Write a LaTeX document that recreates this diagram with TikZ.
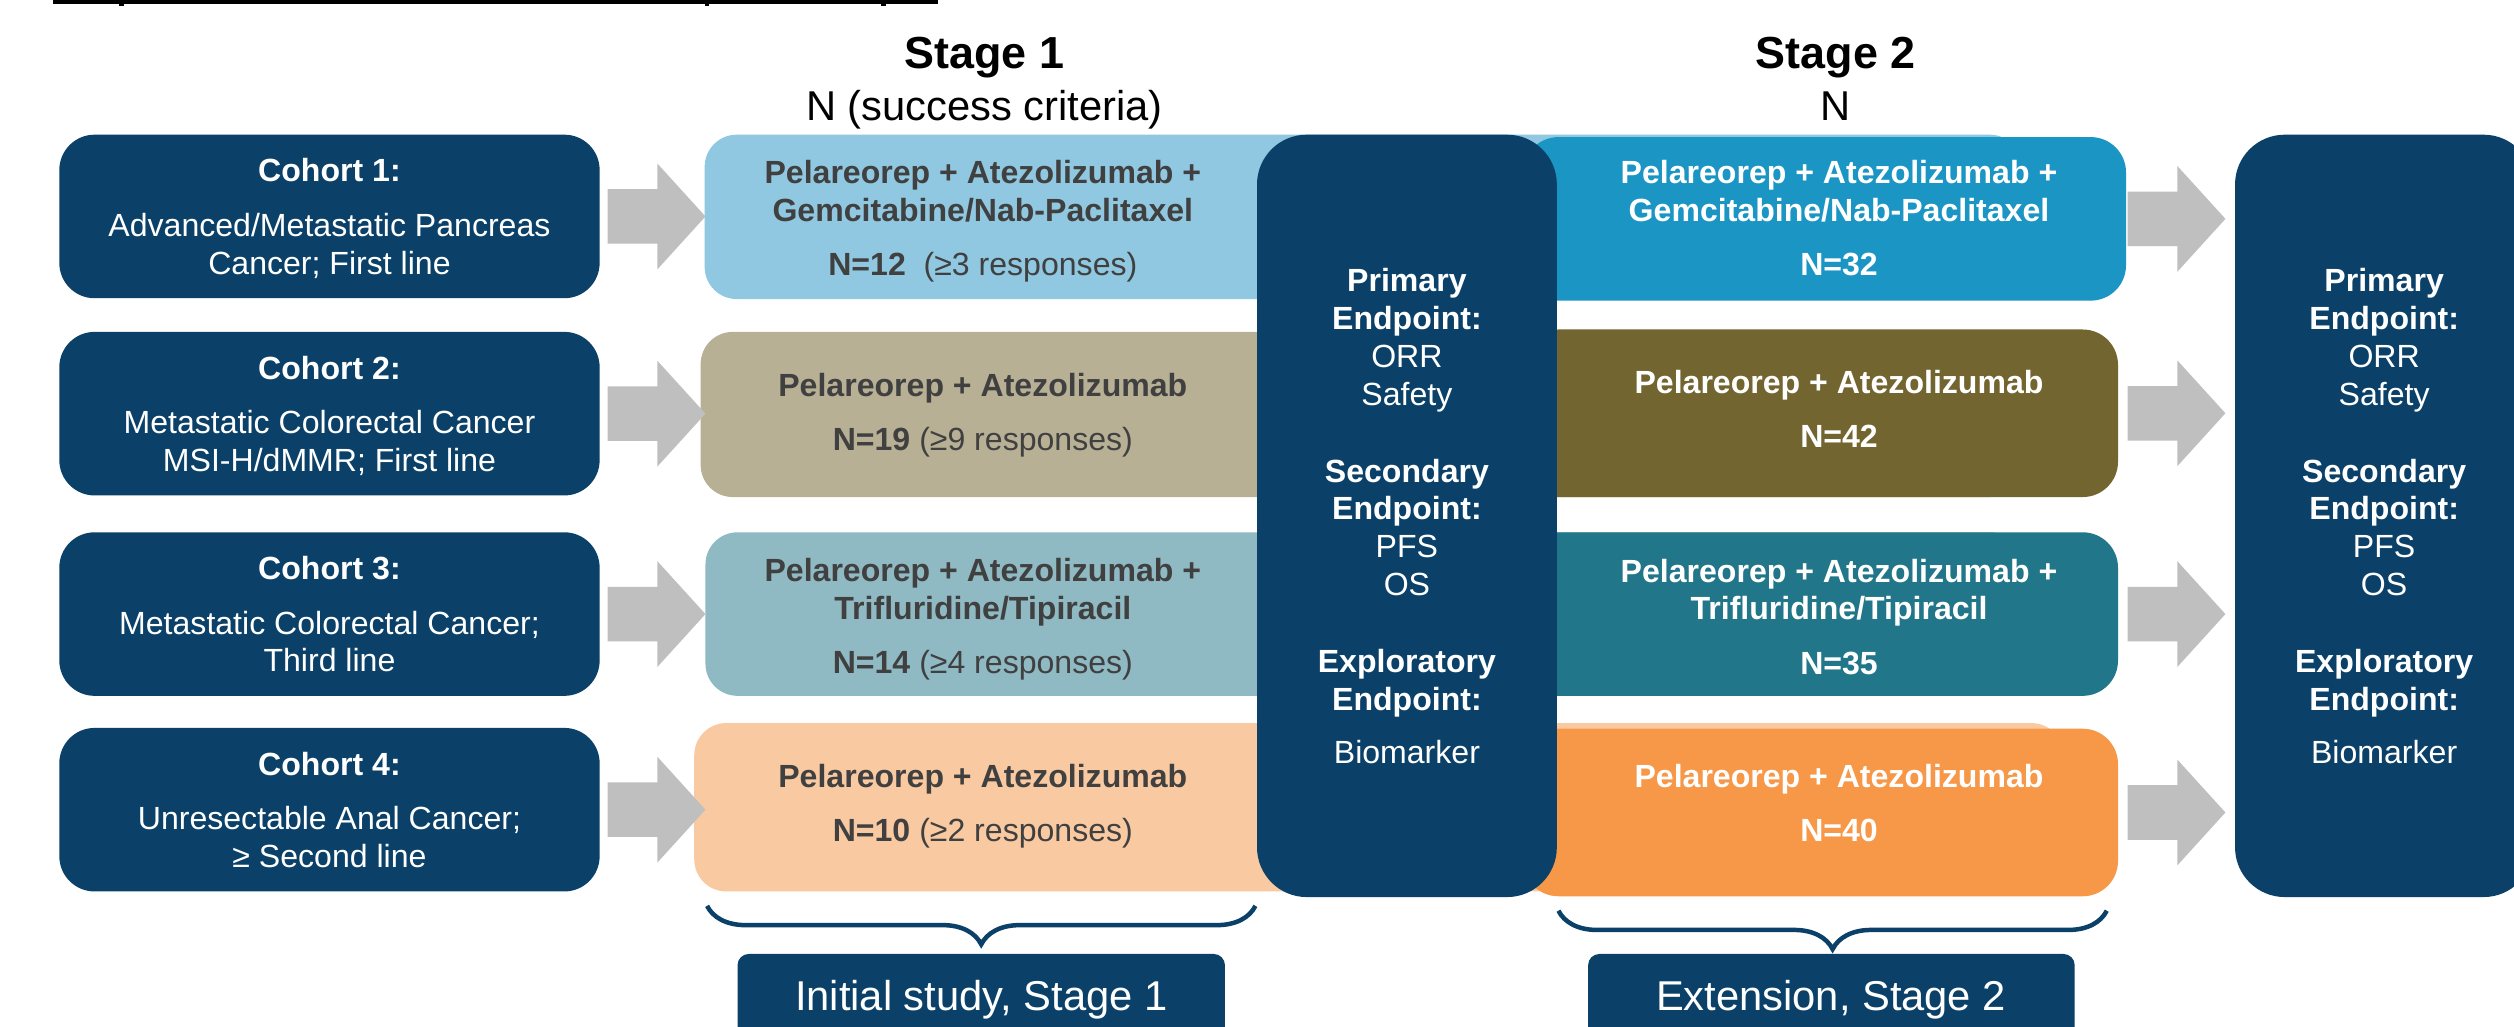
\documentclass[tikz,border=0pt]{standalone}
\usepackage{fontspec}
\setmainfont{Liberation Sans}
\usetikzlibrary{calc,decorations.pathreplacing}
\definecolor{navy}{HTML}{0B4168}
\definecolor{arrowgray}{HTML}{BFBFBF}
\definecolor{textgray}{HTML}{404040}
\definecolor{sA}{HTML}{8FC8E0}
\definecolor{sB}{HTML}{B8B095}
\definecolor{sC}{HTML}{8FB9C3}
\definecolor{sD}{HTML}{F9CAA2}
\definecolor{tA}{HTML}{1B95C4}
\definecolor{tB}{HTML}{736530}
\definecolor{tC}{HTML}{217689}
\definecolor{tD}{HTML}{F69848}
\newcommand{\grayarrowfrom}[1]{\fill[arrowgray] ($(#1)+(0,-17)$) -- ++(31,0) -- ++(0,-16) -- ++(30,33) -- ++(-30,33) -- ++(0,-16) -- ++(-31,0) -- cycle;}
\begin{document}
\begin{tikzpicture}[x=1pt,y=-1pt,
  box/.style={rectangle, inner sep=0pt, outer sep=0pt, anchor=north west},
  cohort/.style={box, fill=navy, rounded corners=22pt, minimum width=337pt, minimum height=102pt},
  sone/.style={box, rounded corners=20pt},
  stwo/.style={box, rounded corners=22pt},
  endp/.style={box, fill=navy, rounded corners=31pt, minimum width=187pt, minimum height=475.5pt},
  lab/.style={box, fill=navy, rounded corners=7pt, minimum height=70pt},
  body/.style={font=\fontsize{20}{23.6}\selectfont, align=center, inner sep=0pt, anchor=base},
  wtext/.style={body, text=white},
  gtext/.style={body, text=textgray},
  head/.style={inner sep=0pt, anchor=base, text=black},
  brc/.style={draw=navy, line width=2.8pt, decorate, decoration={brace, mirror, amplitude=24pt}},
]
\useasboundingbox (0,0) rectangle (1568,640);
\fill[white] (0,0) rectangle (1568,640);
\clip (0,0) rectangle (1568,640);

% cut-off title underline
\fill[black] (33,0) rectangle (585,2.5);
\fill[black] (74.5,2) rectangle (77.5,4);
\fill[black] (439.5,2) rectangle (442,4);
\fill[black] (549.5,2) rectangle (552.5,4);

% headers
\node[head, font=\fontsize{28}{32}\selectfont\bfseries] (h1) at (614,42.5) {Stage 1};
\node[head, font=\fontsize{26}{30}\selectfont] (h1n) at (614,75) {N (success criteria)};
\node[head, font=\fontsize{28}{32}\selectfont\bfseries] (h2) at (1145,42.5) {Stage 2};
\node[head, font=\fontsize{26}{30}\selectfont] (h2n) at (1145,75) {N};

% cohort boxes
\node[cohort] (c1) at (37,84) {};
\node[cohort] (c2) at (37,207) {};
\node[cohort] (c3) at (37,332) {};
\node[cohort] (c4) at (37,454) {};

% stage 1 boxes
\node[sone, fill=sA, minimum width=821.5pt, minimum height=102.5pt] (s1) at (439.5,84) {};
\node[sone, fill=sB, minimum width=824pt, minimum height=103pt] (s2) at (437,207) {};
\node[sone, fill=sC, minimum width=821pt, minimum height=102pt] (s3) at (440,332) {};
\node[sone, fill=sD, minimum width=854pt, minimum height=105pt] (s4) at (433,451) {};

% stage 2 boxes
\node[stwo, fill=tA, minimum width=376pt, minimum height=102pt] (t1) at (950,85.5) {};
\node[stwo, fill=tB, minimum width=371pt, minimum height=104.5pt] (t2) at (950,205.5) {};
\node[stwo, fill=tC, minimum width=371pt, minimum height=102pt] (t3) at (950,332) {};
\node[stwo, fill=tD, minimum width=371pt, minimum height=104.5pt] (t4) at (950,454.5) {};

% endpoint boxes
\node[endp] (m) at (784,84) {};
\node[endp, minimum width=186pt] (r) at (1394,84) {};

% gray block arrows
\grayarrowfrom{$(c1.east)+(5,0)$}
\grayarrowfrom{$(c2.east)+(5,0)$}
\grayarrowfrom{$(c3.east)+(5,0)$}
\grayarrowfrom{$(c4.east)+(5,0)$}
\grayarrowfrom{$(t1.east)+(1,0)$}
\grayarrowfrom{$(t2.east)+(6,0)$}
\grayarrowfrom{$(t3.east)+(6,0)$}
\grayarrowfrom{$(t4.east)+(6,0)$}

% cohort texts (anchor base = last line baseline)
\node[wtext] (c1x) at (205.5,171.1) {\textbf{Cohort 1:}\\[10.4pt]Advanced/Metastatic Pancreas\\Cancer; First line};
\node[wtext] (c2x) at (205.5,294.1) {\textbf{Cohort 2:}\\[10.4pt]Metastatic Colorectal Cancer\\MSI-H/dMMR; First line};
\node[wtext] (c3x) at (205.5,419.1) {\textbf{Cohort 3:}\\[10.4pt]Metastatic Colorectal Cancer;\\Third line};
\node[wtext] (c4x) at (205.5,541.1) {\textbf{Cohort 4:}\\[10.4pt]Unresectable Anal Cancer;\\≥ Second line};

% stage 1 texts
\node[gtext] (s1x) at (613,172.1) {\textbf{Pelareorep + Atezolizumab +}\\\textbf{Gemcitabine/Nab-Paclitaxel}\\[10.4pt]\textbf{N=12}\ \ (≥3 responses)};
\node[gtext] (s2x) at (613,281.1) {\textbf{Pelareorep + Atezolizumab}\\[10pt]\textbf{N=19} (≥9 responses)};
\node[gtext] (s3x) at (613,420.1) {\textbf{Pelareorep + Atezolizumab +}\\\textbf{Trifluridine/Tipiracil}\\[10.4pt]\textbf{N=14} (≥4 responses)};
\node[gtext] (s4x) at (613,524.6) {\textbf{Pelareorep + Atezolizumab}\\[10pt]\textbf{N=10} (≥2 responses)};

% stage 2 texts
\node[wtext, font=\fontsize{20}{23.6}\selectfont\bfseries] (t1x) at (1147,172.1) {Pelareorep + Atezolizumab +\\Gemcitabine/Nab-Paclitaxel\\[10.4pt]N=32};
\node[wtext, font=\fontsize{20}{23.6}\selectfont\bfseries] (t2x) at (1147,279.1) {Pelareorep + Atezolizumab\\[10pt]N=42};
\node[wtext, font=\fontsize{20}{23.6}\selectfont\bfseries] (t3x) at (1147,420.6) {Pelareorep + Atezolizumab +\\Trifluridine/Tipiracil\\[10.4pt]N=35};
\node[wtext, font=\fontsize{20}{23.6}\selectfont\bfseries] (t4x) at (1147,524.6) {Pelareorep + Atezolizumab\\[10pt]N=40};

% endpoint texts
\node[wtext] (mx) at (877.5,476.3) {\textbf{Primary}\\\textbf{Endpoint:}\\ORR\\Safety\\[24.5pt]\textbf{Secondary}\\\textbf{Endpoint:}\\PFS\\OS\\[24.5pt]\textbf{Exploratory}\\\textbf{Endpoint:}\\[9.5pt]Biomarker};
\node[wtext] (rx) at (1487,476.3) {\textbf{Primary}\\\textbf{Endpoint:}\\ORR\\Safety\\[24.5pt]\textbf{Secondary}\\\textbf{Endpoint:}\\PFS\\OS\\[24.5pt]\textbf{Exploratory}\\\textbf{Endpoint:}\\[9.5pt]Biomarker};

% braces
\coordinate (br1a) at (441,565);
\coordinate (br1b) at (783,565);
\coordinate (br2a) at (972,568);
\coordinate (br2b) at (1314,568);
\draw[brc] (br1a) -- (br1b);
\draw[brc] (br2a) -- (br2b);

% bottom labels
\node[lab, minimum width=304pt] (b1) at (460,595) {};
\node[lab, minimum width=303.5pt] (b2) at (990.5,595) {};
\node[head, text=white, font=\fontsize{26}{30}\selectfont] (b1x) at (612,630.4) {Initial study, Stage 1};
\node[head, text=white, font=\fontsize{26}{30}\selectfont] (b2x) at (1142,630.4) {Extension, Stage 2};
\end{tikzpicture}
\end{document}
